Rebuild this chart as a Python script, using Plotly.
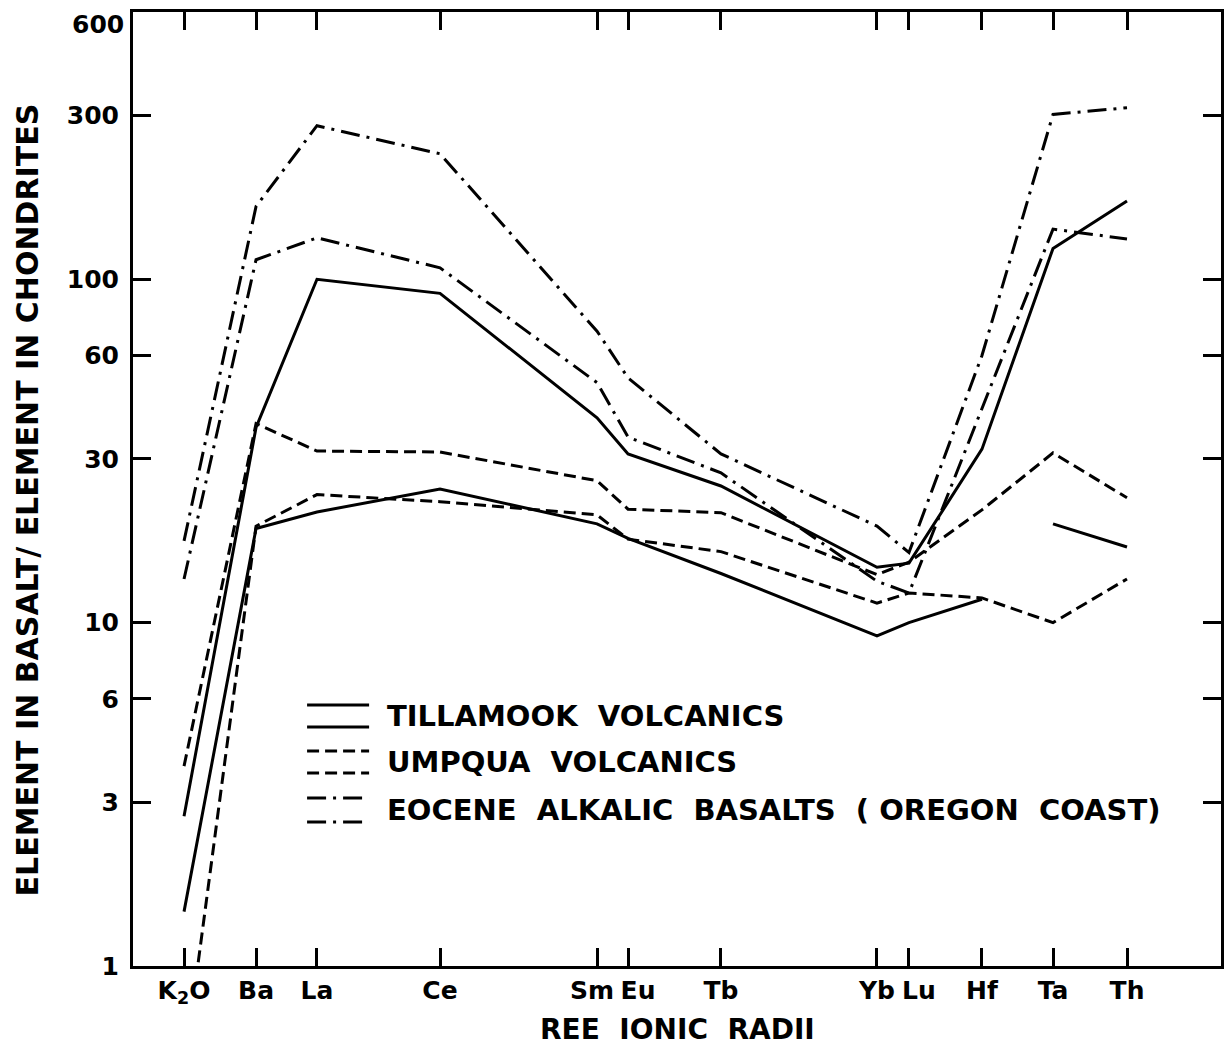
import math
import plotly.graph_objects as go

NB = "\u00a0"

# Elements along the ionic-radius axis
elements = ["K2O", "Ba", "La", "Ce", "Sm", "Eu", "Tb", "Yb", "Lu", "Hf", "Ta", "Th"]
tick_labels = ["K<sub>2</sub>O", "Ba", "La", "Ce", "Sm", "Eu", "Tb", "Yb", "Lu", "Hf", "Ta", "Th"]
# relative spacing of the elements on the horizontal axis (0-100 scale)
element_x = [4.69, 11.31, 16.91, 28.22, 42.65, 45.50, 54.04, 68.38, 71.32, 78.03, 84.56, 91.36]
# labels of crowded neighbours are nudged sideways (pixels)
label_nudge = {"Sm": -5, "Eu": 10, "Lu": 10}

# Chondrite-normalised abundances (upper and lower envelope of each suite)
tillamook_high = [2.73, 37, 100, 91, 39.5, 31, 25, 14.5, 14.9, 32, 123, 169]
tillamook_low = [1.44, 18.8, 21, 24.5, 19.4, 17.6, 13.9, 9.15, 10.0, 11.7, 19.4, 16.6]
tillamook_low_break_after = "Hf"

umpqua_high = [3.82, 38, 31.6, 31.4, 25.9, 21.4, 20.9, 13.8, 15.0, 21.3, 31.2, 23.1]
umpqua_low = [0.5, 19.1, 23.6, 22.5, 20.6, 17.5, 16.1, 11.4, 12.2, 11.8, 10.0, 13.4]

eocene_high = [17.3, 163, 280, 232, 70.6, 51.6, 31.0, 19.1, 16.0, 60, 302, 316]
eocene_low = [13.4, 114, 132, 108, 50, 34.7, 27.3, 13.2, 12.2, 42, 140, 131]

y_tick_values = [1, 3, 6, 10, 30, 60, 100, 300]
y_tick_text = ["1", "3", "6", "10", "30", "60", "100", "300"]
y_top = 600

FONT = "DejaVu Sans, Liberation Sans, sans-serif"
INK = "black"
SOLID = "solid"
DASHED = "12px,6px"
DASHDOT = "19px,7px,3px,7px"
TICK_FONT = dict(family=FONT, size=25, color=INK, weight="bold")


def split_series(xs, ys, break_after=None):
    out_x, out_y = [], []
    for name, x, y in zip(elements, xs, ys):
        out_x.append(x)
        out_y.append(y)
        if name == break_after:
            out_x.append(None)
            out_y.append(None)
    return out_x, out_y


series = [
    (tillamook_high, None, SOLID),
    (tillamook_low, tillamook_low_break_after, SOLID),
    (umpqua_high, None, DASHED),
    (umpqua_low, None, DASHED),
    (eocene_high, None, DASHDOT),
    (eocene_low, None, DASHDOT),
]

fig = go.Figure()
for values, brk, dash in series:
    xs, ys = split_series(element_x, values, brk)
    fig.add_trace(go.Scatter(
        x=xs, y=ys, mode="lines", connectgaps=False,
        line=dict(color=INK, width=3, dash=dash),
        showlegend=False, hoverinfo="skip",
    ))

# Hand-drawn style key: two stroke samples per suite
key_x0, key_x1 = 0.160, 0.217
key_rows = [
    ("TILLAMOOK" + NB * 2 + "VOLCANICS", SOLID, 0.2736, 0.2505, 0.2621),
    ("UMPQUA" + NB * 2 + "VOLCANICS", DASHED, 0.2254, 0.2023, 0.2138),
    ("EOCENE" + NB * 2 + "ALKALIC" + NB * 2 + "BASALTS" + NB * 2 + "(" + NB + "OREGON" + NB * 2 + "COAST)",
     DASHDOT, 0.1761, 0.1509, 0.1635),
]
for label, dash, ya, yb, yt in key_rows:
    for yy in (ya, yb):
        fig.add_shape(type="line", xref="paper", yref="paper",
                      x0=key_x0, x1=key_x1, y0=yy, y1=yy,
                      line=dict(color=INK, width=3, dash=dash))
    fig.add_annotation(xref="paper", yref="paper", x=0.2316, y=yt,
                       text=label, showarrow=False, xanchor="left", yanchor="middle",
                       font=dict(family=FONT, size=29, color=INK, weight="bold"))

# Top value of the log axis, labelled just under the frame corner
fig.add_annotation(xref="paper", yref="y", x=0, y=math.log10(y_top), xshift=-7, yshift=-12,
                   text=str(y_top), showarrow=False, xanchor="right", yanchor="middle",
                   font=TICK_FONT)

# Axis titles
fig.add_annotation(xref="paper", yref="paper", x=0.5, y=-0.067,
                   text="REE" + NB * 2 + "IONIC" + NB * 2 + "RADII", showarrow=False,
                   xanchor="center", yanchor="middle",
                   font=dict(family=FONT, size=28, color=INK, weight="bold"))
fig.add_annotation(xref="paper", yref="paper", x=-0.0974, y=0.488,
                   text="ELEMENT IN BASALT/ ELEMENT IN CHONDRITES",
                   showarrow=False, textangle=-90, xanchor="center", yanchor="middle",
                   font=dict(family=FONT, size=30, color=INK, weight="bold"))

axis_common = dict(
    showline=True, linecolor=INK, linewidth=3, mirror="ticks",
    ticks="inside", ticklen=18, tickwidth=3, tickcolor=INK,
    showgrid=False, zeroline=False, ticklabeloverflow="allow", automargin=False,
    tickfont=TICK_FONT,
)

# main x axis carries the frame, the ticks and the un-nudged labels
main_text = ["" if e in label_nudge else t for e, t in zip(elements, tick_labels)]

layout_axes = dict(
    xaxis=dict(range=[0, 100], tickmode="array", tickvals=element_x,
               ticktext=main_text, tickangle=0, ticklabelstandoff=0, **axis_common),
    yaxis=dict(type="log", range=[0, math.log10(y_top) + 0.0002], tickmode="array",
               tickvals=y_tick_values, ticktext=y_tick_text,
               ticklabelstandoff=6, **axis_common),
)

# label-only overlay axes for the nudged element names
shifts = sorted(set(label_nudge.values()))
for i, shift in enumerate(shifts, start=2):
    vals = [x for e, x in zip(elements, element_x) if label_nudge.get(e) == shift]
    txt = [t for e, t in zip(elements, tick_labels) if label_nudge.get(e) == shift]
    layout_axes[f"xaxis{i}"] = dict(
        overlaying="x", matches="x", anchor="y", side="bottom",
        range=[0, 100], tickmode="array", tickvals=vals, ticktext=txt,
        tickangle=0, ticklabelstandoff=7, ticklabelshift=shift,
        showline=False, ticks="", showgrid=False, zeroline=False,
        automargin=False, tickfont=TICK_FONT,
    )
    # an empty trace keeps each overlay axis active
    fig.add_trace(go.Scatter(x=[None], y=[None], xaxis=f"x{i}", yaxis="y",
                             mode="lines", showlegend=False, hoverinfo="skip"))

fig.update_layout(
    width=1225, height=1052,
    margin=dict(l=133, r=4, t=12, b=86),
    paper_bgcolor="white", plot_bgcolor="white",
    **layout_axes,
)

fig.write_html("out.html")
